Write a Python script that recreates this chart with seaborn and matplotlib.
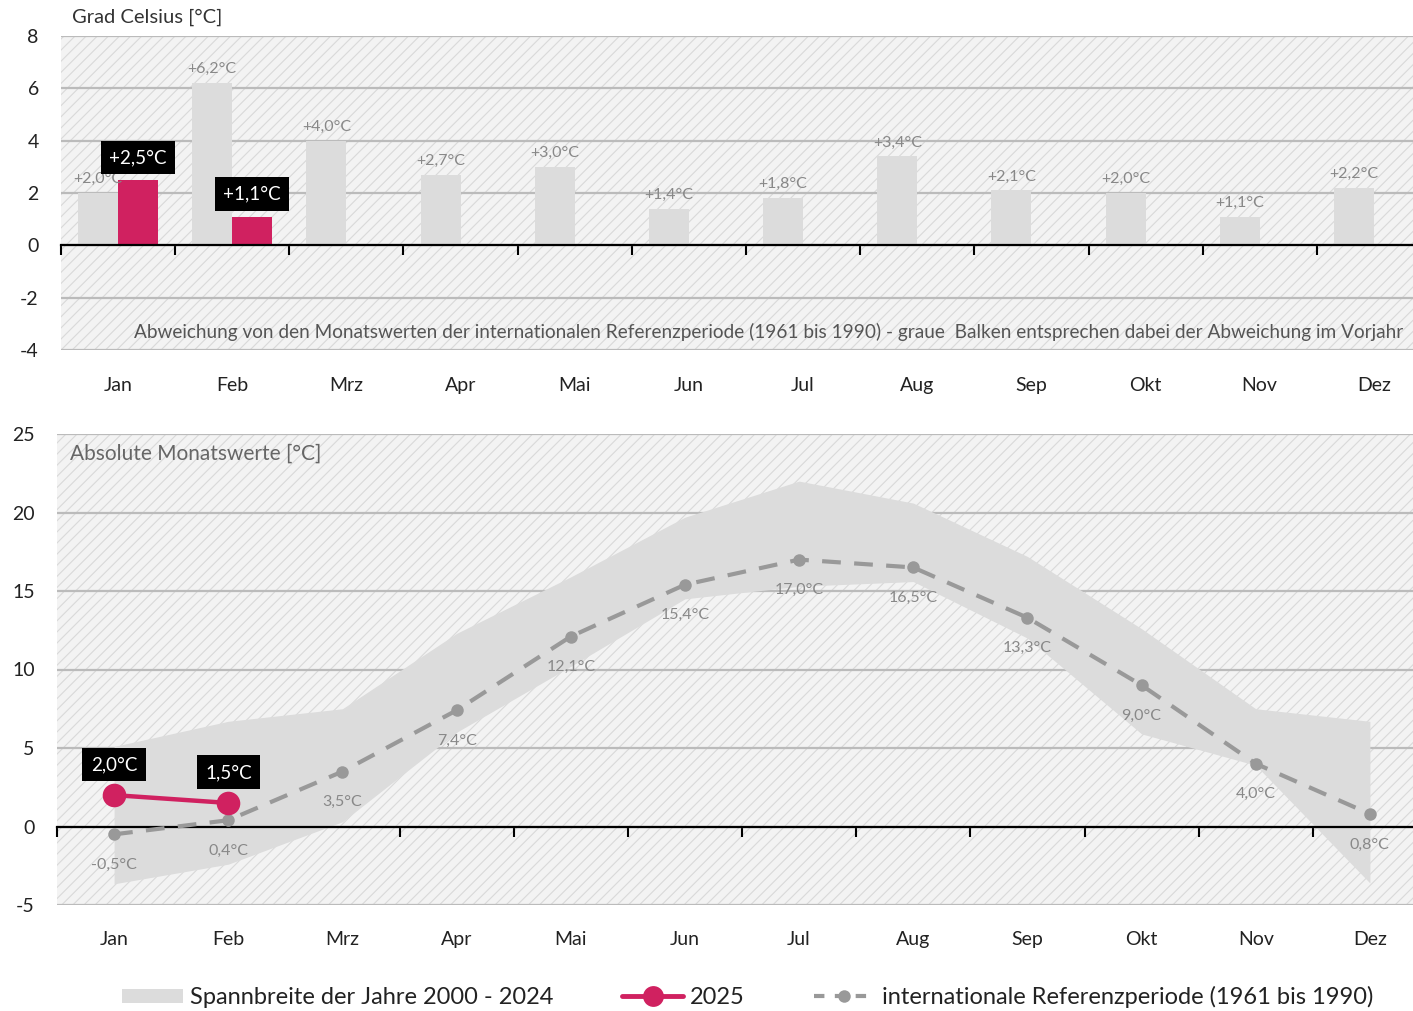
import matplotlib
matplotlib.use("Agg")
import matplotlib.pyplot as plt
import numpy as np
import pandas as pd
import seaborn as sns
from matplotlib.lines import Line2D
from matplotlib.patches import Patch

# data
months = ["Jan", "Feb", "Mrz", "Apr", "Mai", "Jun", "Jul", "Aug", "Sep", "Okt", "Nov", "Dez"]
dev_prev = [2.0, 6.2, 4.0, 2.7, 3.0, 1.4, 1.8, 3.4, 2.1, 2.0, 1.1, 2.2]  # Abweichung Vorjahr
dev_2025 = [2.5, 1.1]  # Abweichung 2025
ref = [-0.5, 0.4, 3.5, 7.4, 12.1, 15.4, 17.0, 16.5, 13.3, 9.0, 4.0, 0.8]  # 1961 bis 1990
abs_2025 = [2.0, 1.5]
span_low = [-3.65, -2.4, 0.3, 6.0, 10.2, 14.5, 15.3, 15.6, 12.0, 5.9, 3.9, -3.6]
span_high = [5.1, 6.7, 7.5, 12.3, 15.9, 19.7, 22.0, 20.6, 17.2, 12.6, 7.5, 6.7]

PINK = "#d02160"
GRAY = "#dcdcdc"
REF = "#999999"


def fmt(v, sign=False):
    s = f"{v:+.1f}" if sign else f"{v:.1f}"
    return s.replace(".", ",") + "°C"


sns.set_theme(style="white")
plt.rcParams["font.family"] = ["Lato", "DejaVu Sans"]
plt.rcParams["axes.unicode_minus"] = False
plt.rcParams["hatch.linewidth"] = 0.8
plt.rcParams["hatch.color"] = "#d9d9d9"

fig = plt.figure(figsize=(14.13, 10.11), dpi=100)
# axes run slightly past the right edge of the figure, as in the original
ax1 = fig.add_axes([61 / 1413, 1 - 350 / 1011, 1370 / 1413, 314 / 1011])
ax2 = fig.add_axes([57 / 1413, 1 - 905 / 1011, 1370 / 1413, 471 / 1011])


def style_axes(ax, ylim, yticks, label_pad):
    ax.patch.set_facecolor("#f3f3f3")
    ax.patch.set_edgecolor("#d9d9d9")
    ax.patch.set_hatch("///")
    ax.patch.set_linewidth(0)
    ax.set_ylim(*ylim)
    ax.set_yticks(yticks)
    ax.set_axisbelow(True)
    ax.yaxis.grid(True, color="#bbbbbb", lw=1.6)
    ax.xaxis.grid(False)
    for s in ["left", "top", "right"]:
        ax.spines[s].set_visible(False)
    ax.spines["bottom"].set_position(("data", 0))
    ax.spines["bottom"].set_color("black")
    ax.spines["bottom"].set_linewidth(1.6)
    ax.set_xticks(np.arange(-0.5, 12, 1))
    ax.set_xticklabels([])
    ax.set_xticks(range(12), labels=months, minor=True)
    ax.tick_params(axis="x", which="major", direction="out", length=7, width=1.5, color="black", bottom=True)
    ax.tick_params(axis="x", which="minor", length=0, pad=label_pad, labelsize=14, labelcolor="#222222")
    ax.tick_params(axis="y", length=0, pad=16, labelsize=14, labelcolor="#222222")
    ax.set_xlim(-0.5, 11.5)
    ax.set_xlabel("")
    ax.set_ylabel("")


# top: Abweichungen
df_dev = pd.DataFrame({
    "Monat": months + months[:2],
    "Wert": dev_prev + dev_2025,
    "Reihe": ["Vorjahr"] * 12 + ["2025"] * 2,
})
sns.barplot(data=df_dev, x="Monat", y="Wert", hue="Reihe", order=months,
            hue_order=["Vorjahr", "2025"], palette=[GRAY, PINK], width=0.7, gap=0,
            saturation=1, errorbar=None, legend=False, linewidth=0, ax=ax1)
style_axes(ax1, (-4, 8), range(-4, 9, 2), 95)
ax1.bar_label(ax1.containers[0], labels=[fmt(v, True) for v in dev_prev],
              padding=5, fontsize=11.5, color="#888888")
ax1.bar_label(ax1.containers[1], labels=[fmt(v, True) for v in dev_2025],
              padding=10, fontsize=13.5, color="white", zorder=5,
              bbox=dict(boxstyle="square,pad=0.45", fc="black", ec="none"))

# bottom: absolute Monatswerte
ax2.fill_between(months, span_low, span_high, color=GRAY, lw=0, zorder=1)
sns.lineplot(x=months, y=ref, sort=False, color=REF, lw=3, linestyle=(0, (4.5, 3.2)),
             marker="o", markersize=9, markeredgewidth=0, ax=ax2, zorder=3)
sns.lineplot(x=months[:2], y=abs_2025, sort=False, color=PINK, lw=3.2,
             marker="o", markersize=17, markeredgewidth=0, ax=ax2, zorder=4)
style_axes(ax2, (-5, 25), range(-5, 26, 5), 75)

for i, v in enumerate(ref):
    ax2.annotate(fmt(v), (i, v), xytext=(0, -22), textcoords="offset points",
                 ha="center", va="center", fontsize=11.5, color="#888888", zorder=5)
for i, v in enumerate(abs_2025):
    ax2.annotate(fmt(v), (i, v), xytext=(0, 22), textcoords="offset points",
                 ha="center", va="center", fontsize=13.5, color="white", zorder=6,
                 bbox=dict(boxstyle="square,pad=0.45", fc="black", ec="none"))

# texts
fig.text(72 / 1413, 1 - 17 / 1011, "Grad Celsius [°C]", fontsize=14.5, color="#333333", va="center")
fig.text(134 / 1413, 1 - 332 / 1011,
         "Abweichung von den Monatswerten der internationalen Referenzperiode (1961 bis 1990) - graue  Balken entsprechen dabei der Abweichung im Vorjahr",
         fontsize=13.7, color="#555555", va="center")
fig.text(70 / 1413, 1 - 454 / 1011, "Absolute Monatswerte [°C]", fontsize=15, color="#666666", va="center")

# legend
handles = [
    Patch(facecolor=GRAY, edgecolor="none"),
    Line2D([], [], color=PINK, lw=3.5, marker="o", markersize=15, markeredgewidth=0),
    Line2D([], [], color=REF, lw=3, linestyle=(0, (2.5, 2.5)), marker="o", markersize=9, markeredgewidth=0),
]
labels = ["Spannbreite der Jahre 2000 - 2024", "2025", "internationale Referenzperiode (1961 bis 1990)"]
fig.legend(handles, labels, loc="center", bbox_to_anchor=(0.529, 1 - 997 / 1011), ncol=3,
           frameon=False, fontsize=17, handlelength=2.6, handleheight=0.55, handletextpad=0.3,
           columnspacing=2.9, labelcolor="#222222")

fig.savefig("out.png", dpi=100)
